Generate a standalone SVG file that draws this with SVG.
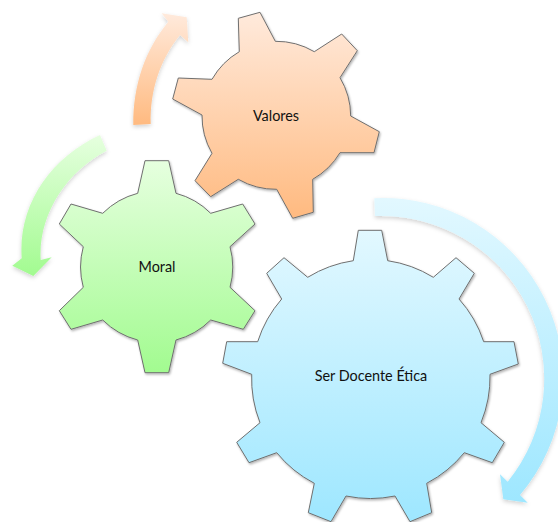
<svg xmlns="http://www.w3.org/2000/svg" width="558" height="522" viewBox="0 0 558 522">
<style>
.gear{stroke:#6f6f6f;stroke-width:1;stroke-linejoin:round;filter:url(#sh)}
.arrow{filter:url(#sha)}
text{font-family:"Lato","Open Sans","Liberation Sans",sans-serif;font-size:14.4px;fill:#111;text-anchor:middle}
</style>
<defs>
<filter id="sh" x="-10%" y="-10%" width="120%" height="120%"><feDropShadow dx="1" dy="1.5" stdDeviation="1.2" flood-color="#000" flood-opacity=".3"/></filter>
<filter id="sha" x="-20%" y="-20%" width="140%" height="140%"><feDropShadow dx="0" dy="2" stdDeviation="2" flood-color="#000" flood-opacity=".18"/></filter>
<linearGradient id="o" x1="0" y1="0" x2="0" y2="1"><stop offset="0" stop-color="#FFEADC"/><stop offset="1" stop-color="#FFBA80"/></linearGradient>
<linearGradient id="g" x1="0" y1="0" x2="0" y2="1"><stop offset="0" stop-color="#E6FFDF"/><stop offset="1" stop-color="#A2FB90"/></linearGradient>
<linearGradient id="b" x1="0" y1="0" x2="0" y2="1"><stop offset="0" stop-color="#E2F8FF"/><stop offset="1" stop-color="#9EE7FF"/></linearGradient>
</defs>
<rect width="558" height="522" fill="#fff"/>
<g id="connectors">
<path class="arrow" fill="url(#o)" d="M133.3 125C133 85 145 50 168.3 21.7L161.7 13.3L186.7 17.3L188.3 42.3L180 35C160 60 150 90 150.7 124Z"/>
<path class="arrow" fill="url(#g)" d="M100 135C50 158 18 205 21.7 258.3L12.3 265.7L33.3 276L51.7 257.3L40.7 260C38 215 66 172 106.7 150.7Z"/>
<path class="arrow" fill="url(#b)" d="M374.3 198.3A180 180 0 0 1 520 495L527.7 502.7L503.3 499.3L500 474.3L507.7 481.7A163 163 0 0 0 375 216Z"/>
</g>
<g id="node-valores">
<path class="gear" fill="url(#o)" d="M238.3 18.3L260 12.3L275.3 41.3A75 75 0 0 1 314.3 51.7L341.7 34L357.3 50.7L340 77.7A75 75 0 0 1 350.7 116L379.3 131.7L374 152.7L340 152.7A75 75 0 0 1 312.7 179.3L313.3 212.3L292.7 218.3L276.7 189.3A75 75 0 0 1 238.3 179.3L210.7 196.7L195 180.7L212 153.3A75 75 0 0 1 202 115L172.7 99L178.3 78L212 79.3A75 75 0 0 1 239.3 51.7Z"/>
<text x="276" y="120.5">Valores</text>
</g>
<g id="node-moral">
<path class="gear" fill="url(#g)" d="M145 160.7L168.7 160.7L176 193.3A77 77 0 0 1 210.7 213.3L242.7 204L255 224L230 246.7A77 77 0 0 1 230 287.3L255 310.7L243.3 329.3L210.7 320A77 77 0 0 1 176 340L168.7 372.7L145 372.7L137.7 340A77 77 0 0 1 102.7 320L71 329.3L59.3 310.7L83.3 287.3A77 77 0 0 1 83.3 246.7L59.3 224L71 204L102.7 213.3A77 77 0 0 1 137.7 193.3Z"/>
<text x="157" y="271.5">Moral</text>
</g>
<g id="node-ser-docente-etica">
<path class="gear" fill="url(#b)" d="M358.3 230.3L381.7 230.3L387.7 260.7A120 120 0 0 1 433.3 277.3L456 257.7L474.3 273.3L459 299A120 120 0 0 1 483.7 341.7L514 341.7L518.3 364L490 374.3A120 120 0 0 1 481 422.7L504.3 442.3L492.3 462.7L464.3 452.7A120 120 0 0 1 426.7 483.3L431.7 512.7L410 521.7L395 496A120 120 0 0 1 346 496L331 521.7L308.3 512.7L314.3 483.3A120 120 0 0 1 276.7 452.7L249 462.7L236.7 442.3L260 422.7A120 120 0 0 1 251.7 374.3L222.7 363.3L226.7 341.7L257.7 341.7A120 120 0 0 1 281.7 299L266.7 273.3L284 257.7L307.7 277.3A120 120 0 0 1 353.3 260.7Z"/>
<text x="371" y="381">Ser Docente Ética</text>
</g>
</svg>
